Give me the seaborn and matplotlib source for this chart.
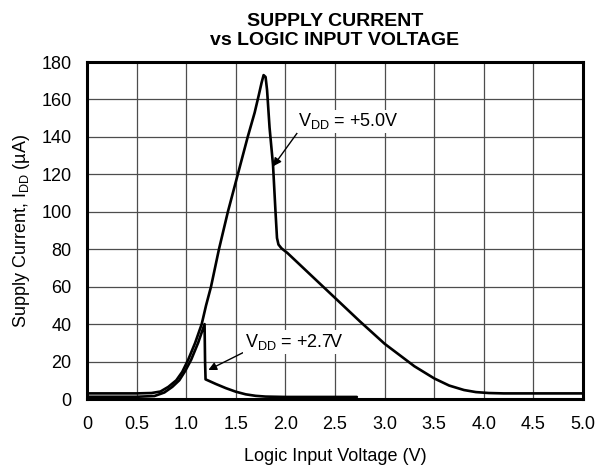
import matplotlib
matplotlib.use("Agg")
import matplotlib.pyplot as plt
import seaborn as sns

# V_DD = +5.0V curve (logic input voltage in V, supply current in uA)
v_5v = [0, 0.5, 0.65, 0.74, 0.82, 0.9, 0.96, 1.02, 1.09, 1.156, 1.2, 1.25, 1.33, 1.42,
        1.52, 1.62, 1.69, 1.73, 1.76, 1.78, 1.8, 1.815, 1.84, 1.875, 1.9, 1.915, 1.93,
        1.96, 2.02, 2.28, 2.5, 2.75, 3.0, 3.15, 3.3, 3.5, 3.65, 3.8, 3.92, 4.05, 4.2, 5.0]
i_5v = [3, 3, 3.2, 4, 6.5, 10, 14.5, 21, 30, 40, 50, 60, 80, 100,
        120, 140, 153, 162, 169, 173, 172, 165, 145, 125, 100, 86, 82.5,
        80.5, 78, 65, 54, 41.5, 29.5, 23.5, 17.5, 11, 7.2, 4.8, 3.7, 3.2, 3, 3]

# V_DD = +2.7V curve
v_27v = [0, 0.5, 0.68, 0.78, 0.86, 0.93, 0.99, 1.05, 1.12, 1.185, 1.19, 1.195, 1.3,
         1.4, 1.5, 1.6, 1.7, 1.8, 2.0, 2.72]
i_27v = [1.2, 1.2, 1.6, 3.5, 6.5, 10, 15, 21, 30, 40, 20, 10.5, 8,
         5.8, 3.9, 2.5, 1.7, 1.3, 1.1, 1.1]

x_ticks = [0, 0.5, 1.0, 1.5, 2.0, 2.5, 3.0, 3.5, 4.0, 4.5, 5.0]
x_tick_labels = ["0", "0.5", "1.0", "1.5", "2.0", "2.5", "3.0", "3.5", "4.0", "4.5", "5.0"]
y_ticks = list(range(0, 181, 20))

sns.set_style("white")
plt.rcParams["font.family"] = ["Liberation Sans", "DejaVu Sans"]
plt.rcParams["mathtext.fontset"] = "custom"
plt.rcParams["mathtext.rm"] = "Liberation Sans"
plt.rcParams["text.color"] = "black"
plt.rcParams["axes.labelcolor"] = "black"
plt.rcParams["xtick.color"] = "black"
plt.rcParams["ytick.color"] = "black"

fig = plt.figure(figsize=(5.98, 4.68), dpi=100)
ax = fig.add_axes([0.1455, 0.1474, 0.8295, 0.7201])

sns.lineplot(x=v_5v, y=i_5v, ax=ax, color="black", linewidth=1.9, sort=False)
sns.lineplot(x=v_27v, y=i_27v, ax=ax, color="black", linewidth=1.9, sort=False)

ax.set_xlim(0, 5.0)
ax.set_ylim(0, 180)
ax.set_xticks(x_ticks)
ax.set_xticklabels(x_tick_labels)
ax.set_yticks(y_ticks)
ax.tick_params(length=0, labelsize=13, labelcolor="black")
ax.tick_params(axis="x", pad=12)
ax.tick_params(axis="y", pad=11)
ax.grid(True, color="0.3", linewidth=0.9)
for sp in ax.spines.values():
    sp.set_visible(True)
    sp.set_color("black")
    sp.set_linewidth(2.2)

ax.set_xlabel("Logic Input Voltage (V)", fontsize=13, labelpad=11, color="black")
ax.set_ylabel(r"Supply Current, I$_{\mathregular{DD}}$ (µA)", fontsize=13, labelpad=7,
              color="black")
ax.set_title("SUPPLY CURRENT\nvs LOGIC INPUT VOLTAGE", fontsize=14, fontweight="bold",
             linespacing=1.2, pad=12, color="black")

ax.annotate(r"V$_{\mathregular{DD}}$ = +5.0V", xy=(1.876, 124.3), xytext=(2.13, 145.6),
            fontsize=13, va="baseline", ha="left", color="black",
            arrowprops=dict(arrowstyle="-|>", color="black", lw=1.0, shrinkA=0, shrinkB=0,
                            mutation_scale=12, relpos=(0, 0)),
            bbox=dict(boxstyle="square,pad=0.1", fc="white", ec="none"))
ax.annotate(r"V$_{\mathregular{DD}}$ = +2.7V", xy=(1.223, 15.5), xytext=(1.59, 27.9),
            fontsize=13, va="baseline", ha="left", color="black",
            arrowprops=dict(arrowstyle="-|>", color="black", lw=1.0, shrinkA=0, shrinkB=0,
                            mutation_scale=12, relpos=(0, 0)),
            bbox=dict(boxstyle="square,pad=0.1", fc="white", ec="none"))

fig.savefig("out.png", dpi=100)
